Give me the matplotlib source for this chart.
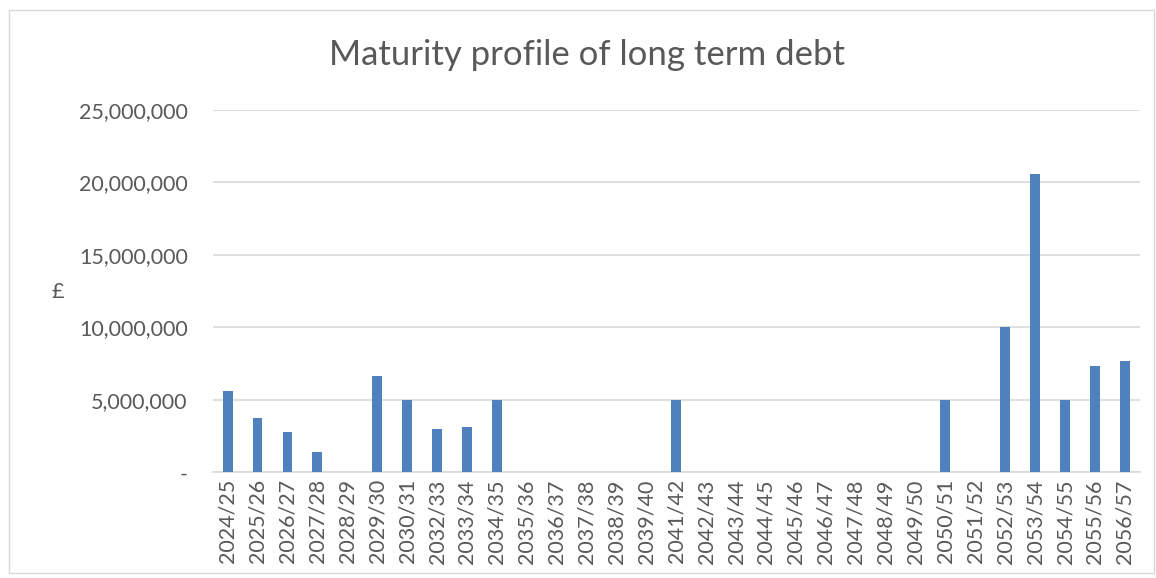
import matplotlib.pyplot as plt
from matplotlib.ticker import FuncFormatter

# categories (financial years) - note 2031/32 and 2040/41 are not in the chart
years = ['2024/25', '2025/26', '2026/27', '2027/28', '2028/29', '2029/30', '2030/31',
         '2032/33', '2033/34', '2034/35', '2035/36', '2036/37', '2037/38', '2038/39',
         '2039/40', '2041/42', '2042/43', '2043/44', '2044/45', '2045/46', '2046/47',
         '2047/48', '2048/49', '2049/50', '2050/51', '2051/52', '2052/53', '2053/54',
         '2054/55', '2055/56', '2056/57']
debt = [5570000, 3730000, 2780000, 1380000, 0, 6630000, 5000000,
        2970000, 3130000, 5000000, 0, 0, 0, 0,
        0, 5000000, 0, 0, 0, 0, 0,
        0, 0, 0, 5000000, 0, 10000000, 20600000,
        5000000, 7340000, 7690000]

plt.rcParams['font.family'] = ['Lato', 'DejaVu Sans']
txt = '#595959'

fig = plt.figure(figsize=(11.56, 5.78), dpi=100)
ax = fig.add_axes([0.184, 0.183, 0.802, 0.627])

x = range(len(years))
ax.bar(x, debt, width=0.33, color='#4f81bd', zorder=3)

ax.set_xlim(-0.5, len(years) - 0.5)
ax.set_ylim(0, 25000000)
ax.set_yticks(range(0, 25000001, 5000000))
ax.yaxis.set_major_formatter(FuncFormatter(lambda v, p: '-' if v == 0 else f'{v:,.0f}'))
ax.set_xticks(list(x))
ax.set_xticklabels(years, rotation=90)

ax.grid(axis='y', color='#d9d9d9', linewidth=1.2, zorder=0)
for s in ['top', 'right', 'left']:
    ax.spines[s].set_visible(False)
ax.spines['bottom'].set_color('#d9d9d9')
ax.spines['bottom'].set_linewidth(1.2)
ax.tick_params(axis='both', length=0, colors=txt, labelsize=15.5)
ax.tick_params(axis='y', pad=18)
ax.tick_params(axis='x', pad=5)

ax.set_ylabel('£', rotation=0, color=txt, fontsize=15.5)
ax.yaxis.set_label_coords(-0.167, 0.47)

fig.text(0.508, 0.905, 'Maturity profile of long term debt', ha='center', va='center',
         fontsize=25, color=txt)

# outer border
fig.patches.append(plt.Rectangle((0.008, 0.008), 0.99, 0.975, transform=fig.transFigure,
                                 fill=False, edgecolor='#d9d9d9', linewidth=1))

fig.savefig('out.png', dpi=100)
